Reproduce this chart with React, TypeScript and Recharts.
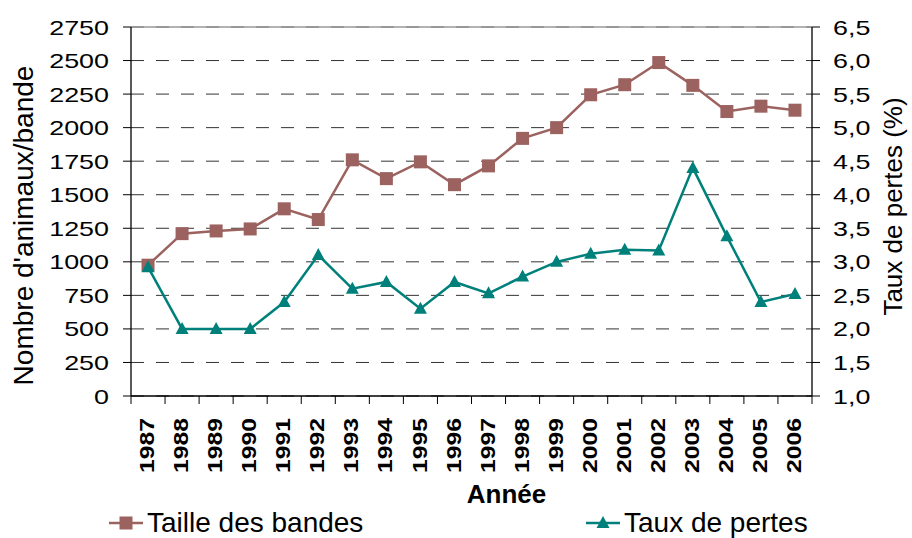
import React from "react";
import {
  LineChart,
  Line,
  XAxis,
  YAxis,
  CartesianGrid,
  ReferenceLine,
  Label,
} from "recharts";

const annees = [
  "1987", "1988", "1989", "1990", "1991", "1992", "1993", "1994", "1995", "1996",
  "1997", "1998", "1999", "2000", "2001", "2002", "2003", "2004", "2005", "2006",
];
const tailleBandes = [
  975, 1210, 1230, 1245, 1395, 1315, 1760, 1620, 1745, 1575,
  1715, 1920, 2000, 2245, 2320, 2485, 2315, 2120, 2160, 2130,
];
const tauxPertes = [
  2.92, 2.0, 2.0, 2.0, 2.4, 3.1, 2.6, 2.7, 2.3, 2.7,
  2.53, 2.78, 3.0, 3.12, 3.18, 3.17, 4.4, 3.38, 2.4, 2.52,
];
const ticksGauche = [0, 250, 500, 750, 1000, 1250, 1500, 1750, 2000, 2250, 2500, 2750];
const ticksDroite = [1, 1.5, 2, 2.5, 3, 3.5, 4, 4.5, 5, 5.5, 6, 6.5];

const data = annees.map((annee, i) => ({
  idx: i,
  annee,
  taille: tailleBandes[i],
  taux: tauxPertes[i],
}));

const W = 912;
const H = 538;
const PLOT_W = 681;
const DEMI = PLOT_W / annees.length / 2;
const BRUN = "#9b625f";
const SARCELLE = "#00807b";
const POLICE = "'Liberation Sans', Arial, sans-serif";

const TickGauche = ({ x, y, payload }: any) => (
  <g transform={`translate(${x},${y}) scale(1.28,1)`}>
    <text textAnchor="end" dy="0.36em" fontSize={21} fill="#000" fontFamily={POLICE}>
      {payload.value}
    </text>
  </g>
);

const TickDroite = ({ x, y, payload }: any) => (
  <g transform={`translate(${x},${y}) scale(1.28,1)`}>
    <text textAnchor="start" dy="0.36em" fontSize={21} fill="#000" fontFamily={POLICE}>
      {Number(payload.value).toFixed(1).replace(".", ",")}
    </text>
  </g>
);

const TickAnnee = ({ x, y, payload, index }: any) => (
  <g>
    <line x1={x - DEMI} x2={x - DEMI} y1={y} y2={y + 8} stroke="#000" />
    {index === annees.length - 1 && (
      <line x1={x + DEMI} x2={x + DEMI} y1={y} y2={y + 8} stroke="#000" />
    )}
    <text
      transform={`translate(${x},${y + 22}) rotate(-90) scale(1.18,1)`}
      textAnchor="end"
      dy="0.29em"
      fontSize={21}
      fontWeight="bold"
      fill="#000"
      fontFamily={POLICE}
    >
      {annees[payload.value]}
    </text>
  </g>
);

const PointCarre = (props: any) => {
  const { cx, cy, index } = props;
  return <rect key={`c${index}`} x={cx - 6.5} y={cy - 6.5} width={13} height={13} fill={BRUN} />;
};

const PointTriangle = (props: any) => {
  const { cx, cy, index } = props;
  return (
    <polygon
      key={`t${index}`}
      points={`${cx},${cy - 7} ${cx + 6.5},${cy + 5} ${cx - 6.5},${cy + 5}`}
      fill={SARCELLE}
    />
  );
};

const LegendItem = ({ color, carre, label, left }: any) => (
  <div style={{ position: "absolute", left, top: 0, display: "flex", alignItems: "center" }}>
    <svg width={36} height={20}>
      <line x1={0} x2={34} y1={10} y2={10} stroke={color} strokeWidth={2.5} />
      {carre ? (
        <rect x={10.5} y={3.5} width={13} height={13} fill={color} />
      ) : (
        <polygon points="17,3 23.5,15 10.5,15" fill={color} />
      )}
    </svg>
    <span style={{ fontSize: 28, fontFamily: POLICE, color: "#000", marginLeft: 2 }}>{label}</span>
  </div>
);

export default function App() {
  return (
    <div style={{ position: "absolute", left: 0, top: 0, width: W, height: H, background: "#fff" }}>
      <LineChart width={W} height={H} data={data} margin={{ top: 27, right: 0, bottom: 0, left: 0 }}>
        <CartesianGrid vertical={false} stroke="#333" strokeDasharray="13 12" />
        <ReferenceLine y={2750} stroke="#999" strokeWidth={1.5} />
        <XAxis
          dataKey="idx"
          type="number"
          domain={[-0.5, annees.length - 0.5]}
          ticks={annees.map((_, i) => i)}
          interval={0}
          height={142}
          tickLine={false}
          tickSize={0}
          tickMargin={0}
          tick={<TickAnnee />}
          axisLine={{ stroke: "#000", strokeWidth: 1.3 }}
        >
          <Label
            content={({ viewBox }: any) => (
              <text
                x={viewBox.x + viewBox.width / 2 + 35}
                y={viewBox.y + 107}
                textAnchor="middle"
                fontSize={26}
                fontWeight="bold"
                fontFamily={POLICE}
                fill="#000"
              >
                Année
              </text>
            )}
          />
        </XAxis>
        <YAxis
          domain={[0, 2750]}
          ticks={ticksGauche}
          interval={0}
          width={131}
          tickSize={8}
          tickMargin={14}
          tick={<TickGauche />}
          tickLine={{ stroke: "#000" }}
          axisLine={{ stroke: "#000", strokeWidth: 1.3 }}
        >
          <Label
            content={({ viewBox }: any) => {
              const cx = viewBox.x + 23;
              const cy = viewBox.y + viewBox.height / 2 + 14;
              return (
                <text
                  x={cx}
                  y={cy}
                  transform={`rotate(-90, ${cx}, ${cy})`}
                  textAnchor="middle"
                  dominantBaseline="central"
                  fontSize={28}
                  fontFamily={POLICE}
                  fill="#000"
                >
                  Nombre d'animaux/bande
                </text>
              );
            }}
          />
        </YAxis>
        <YAxis
          yAxisId="droite"
          orientation="right"
          domain={[1, 6.5]}
          ticks={ticksDroite}
          interval={0}
          width={100}
          tickSize={8}
          tickMargin={13}
          tick={<TickDroite />}
          tickLine={{ stroke: "#000" }}
          axisLine={{ stroke: "#000", strokeWidth: 1.3 }}
        >
          <Label
            content={({ viewBox }: any) => {
              const cx = viewBox.x + 81;
              const cy = viewBox.y + viewBox.height / 2 - 5;
              return (
                <text
                  x={cx}
                  y={cy}
                  transform={`rotate(-90, ${cx}, ${cy})`}
                  textAnchor="middle"
                  dominantBaseline="central"
                  fontSize={26}
                  fontFamily={POLICE}
                  fill="#000"
                >
                  Taux de pertes (%)
                </text>
              );
            }}
          />
        </YAxis>
        <Line
          type="linear"
          dataKey="taille"
          stroke={BRUN}
          strokeWidth={2.5}
          dot={PointCarre}
          activeDot={false}
          isAnimationActive={false}
        />
        <Line
          type="linear"
          dataKey="taux"
          yAxisId="droite"
          stroke={SARCELLE}
          strokeWidth={2.5}
          dot={PointTriangle}
          activeDot={false}
          isAnimationActive={false}
        />
      </LineChart>
      <div style={{ position: "absolute", left: 0, top: 507, width: W, height: 31 }}>
        <LegendItem color={BRUN} carre label="Taille des bandes" left={109} />
        <LegendItem color={SARCELLE} carre={false} label="Taux de pertes" left={586} />
      </div>
    </div>
  );
}
